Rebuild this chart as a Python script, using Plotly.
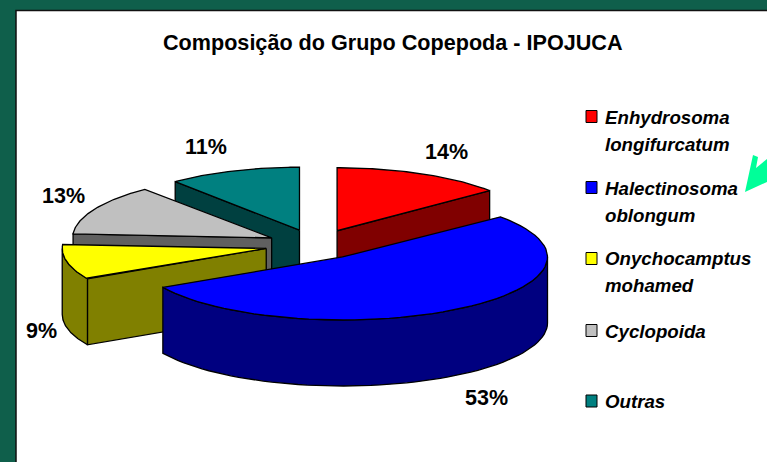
import numpy as np
import plotly.graph_objects as go

title = "Composição do Grupo Copepoda - IPOJUCA"
categories = ["Enhydrosoma longifurcatum", "Halectinosoma oblongum",
              "Onychocamptus mohamed", "Cyclopoida", "Outras"]
legend_lines = [["Enhydrosoma", "longifurcatum"], ["Halectinosoma", "oblongum"],
                ["Onychocamptus", "mohamed"], ["Cyclopoida"], ["Outras"]]
values = [14, 53, 9, 13, 11]
top_colors = ["#FF0000", "#0000FF", "#FFFF00", "#C0C0C0", "#008080"]
side_colors = ["#800000", "#000080", "#808000", "#606060", "#004040"]

W, H = 767, 462
CX, CY = 316, 245      # pie centre in pixel-like axis units
RADII = [198, 205, 204, 199, 195]
MINOR = 63
DEPTH = 66
EXPLODE = [0.25, 0.23, 0.25, 0.25, 0.25]
label_xy = [(446, 152), (486, 398), (41, 331), (63, 196), (206, 147)]
legend_swatch_y = [116.5, 187.5, 258.5, 330.5, 401]
legend_text_y = [[117, 144], [188, 215], [258, 285], [331], [401]]

total = sum(values)
edges = np.cumsum([0] + values) / total * 360.0


def rim(cx, cy, a, t0, t1, n=60):
    t = np.radians(np.linspace(t0, t1, n))
    return cx + a * np.sin(t), cy - MINOR * np.cos(t)


fig = go.Figure()


def poly(xs, ys, color):
    fig.add_trace(go.Scatter(
        x=list(xs), y=list(ys), mode="lines", fill="toself", fillcolor=color,
        line=dict(color="black", width=1.3), hoverinfo="skip", showlegend=False))


# painter's order: back slices first
for i in [4, 3, 2, 0, 1]:
    t0, t1 = edges[i], edges[i + 1]
    mid = np.radians((t0 + t1) / 2)
    a = RADII[i]
    px = CX + EXPLODE[i] * a * np.sin(mid)
    py = CY - EXPLODE[i] * MINOR * np.cos(mid)
    # flat cut faces
    for t, vis in ((t0, np.sin(np.radians(t0)) < -1e-6), (t1, np.sin(np.radians(t1)) > 1e-6)):
        if vis:
            ex, ey = rim(px, py, a, t, t, 1)
            poly([px, ex[0], ex[0], px, px],
                 [py, ey[0], ey[0] + DEPTH, py + DEPTH, py], side_colors[i])
    # outer wall, only the part that faces the viewer
    a0, a1 = max(t0, 90), min(t1, 270)
    if a1 > a0:
        rx, ry = rim(px, py, a, a0, a1)
        poly(list(rx) + list(rx[::-1]) + [rx[0]],
             list(ry) + list((ry + DEPTH)[::-1]) + [ry[0]], side_colors[i])
    # top face
    rx, ry = rim(px, py, a, t0, t1)
    poly([px] + list(rx) + [px], [py] + list(ry) + [py], top_colors[i])

shapes = [
    dict(type="rect", x0=16, x1=W + 5, y0=10.5, y1=H + 5, fillcolor="white",
         line=dict(color="#111111", width=1.5), layer="below"),
    dict(type="path", fillcolor="#00FF99", line=dict(width=0), layer="above",
         path="M745,192 L753,155 L758,157 L756,168 L767,159 L767,182 Z"),
]
annotations = [dict(x=392.5, y=42, text=title, showarrow=False, xanchor="center", yanchor="middle",
                    font=dict(family="Liberation Sans", size=21.6, color="black", weight="bold"))]
for v, (lx, ly) in zip(values, label_xy):
    annotations.append(dict(x=lx, y=ly, text=f"{v}%", showarrow=False,
                            font=dict(family="Liberation Sans", size=21.5, color="black", weight="bold")))
for c, sy, lines, ys in zip(top_colors, legend_swatch_y, legend_lines, legend_text_y):
    shapes.append(dict(type="rect", x0=586, x1=597, y0=sy - 6, y1=sy + 6, fillcolor=c,
                       line=dict(color="black", width=1), layer="above"))
    for txt, y in zip(lines, ys):
        annotations.append(dict(x=603, y=y, text=txt, showarrow=False, xanchor="left", yanchor="middle",
                                font=dict(family="Liberation Sans", size=18.7, color="black",
                                          weight="bold", style="italic")))

fig.update_layout(
    width=W, height=H, margin=dict(l=0, r=0, t=0, b=0), autosize=False,
    paper_bgcolor="#0F5F4B", plot_bgcolor="rgba(0,0,0,0)",
    xaxis=dict(range=[0, W], visible=False, fixedrange=True),
    yaxis=dict(range=[H, 0], visible=False, fixedrange=True),
    shapes=shapes, annotations=annotations,
)
fig.write_html("out.html", config={"displayModeBar": False},
               post_script="document.body.style.margin='0';document.body.style.overflow='hidden';")
